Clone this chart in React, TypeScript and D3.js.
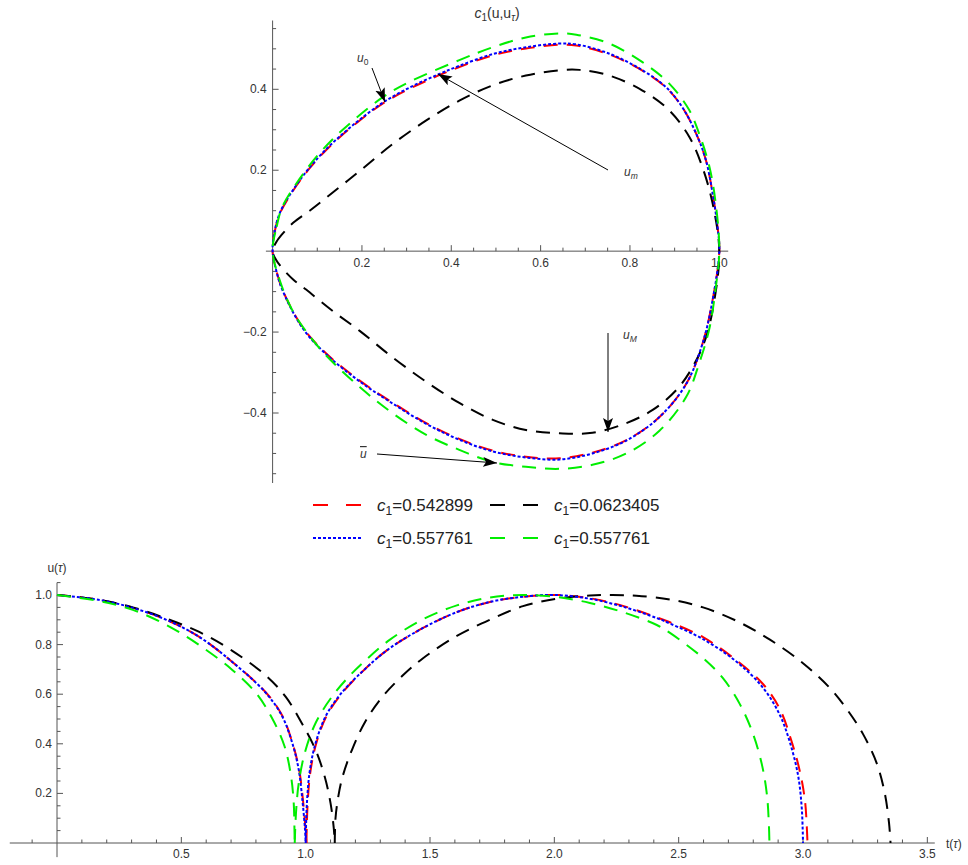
import React from 'react';
import * as d3 from 'd3';

// phase portrait c1(u, u_tau): upper and lower branches, [u, u_tau]
const redUpper = [[0,0],[0.004,0.044],[0.016,0.092],[0.045,0.148],[0.083,0.205],[0.12,0.25],[0.157,0.288],[0.195,0.323],[0.248,0.366],[0.306,0.401],[0.369,0.433],[0.418,0.455],[0.493,0.484],[0.567,0.501],[0.642,0.51],[0.68,0.508],[0.754,0.486],[0.828,0.446],[0.881,0.404],[0.917,0.356],[0.948,0.291],[0.97,0.225],[0.985,0.143],[0.996,0.06],[1,0]];
const redLower = [[0,0],[0.008,-0.046],[0.022,-0.095],[0.067,-0.188],[0.12,-0.253],[0.195,-0.32],[0.268,-0.374],[0.344,-0.425],[0.418,-0.464],[0.493,-0.493],[0.567,-0.508],[0.642,-0.512],[0.716,-0.498],[0.792,-0.467],[0.866,-0.41],[0.926,-0.328],[0.962,-0.23],[0.985,-0.121],[1,0]];
const blackUpper = [[0,0],[0.008,0.022],[0.02,0.04],[0.046,0.07],[0.083,0.1],[0.12,0.132],[0.195,0.198],[0.268,0.264],[0.344,0.323],[0.418,0.372],[0.493,0.41],[0.567,0.434],[0.642,0.447],[0.687,0.448],[0.754,0.434],[0.828,0.397],[0.888,0.348],[0.933,0.282],[0.962,0.208],[0.985,0.118],[1,0]];
const blackLower = [[0,0],[0.008,-0.022],[0.02,-0.04],[0.046,-0.07],[0.075,-0.095],[0.131,-0.145],[0.195,-0.197],[0.268,-0.262],[0.344,-0.323],[0.418,-0.375],[0.493,-0.417],[0.567,-0.442],[0.642,-0.45],[0.716,-0.449],[0.792,-0.425],[0.85,-0.393],[0.904,-0.343],[0.94,-0.287],[0.97,-0.214],[0.989,-0.121],[1,0]];
const blueUpper = [[0,0],[0.004,0.045],[0.016,0.094],[0.045,0.15],[0.083,0.207],[0.12,0.252],[0.157,0.29],[0.195,0.325],[0.248,0.368],[0.306,0.404],[0.369,0.436],[0.418,0.458],[0.493,0.487],[0.567,0.504],[0.642,0.513],[0.68,0.511],[0.754,0.488],[0.828,0.447],[0.881,0.405],[0.917,0.356],[0.948,0.291],[0.97,0.225],[0.985,0.143],[0.996,0.06],[1,0]];
const blueLower = [[0,0],[0.008,-0.047],[0.022,-0.096],[0.067,-0.19],[0.12,-0.255],[0.195,-0.322],[0.268,-0.376],[0.344,-0.427],[0.418,-0.466],[0.493,-0.495],[0.567,-0.51],[0.642,-0.515],[0.716,-0.5],[0.792,-0.468],[0.866,-0.41],[0.926,-0.328],[0.962,-0.23],[0.985,-0.121],[1,0]];
const greenUpper = [[0,0],[0.009,0.06],[0.022,0.11],[0.06,0.178],[0.105,0.242],[0.157,0.3],[0.246,0.38],[0.306,0.418],[0.418,0.472],[0.493,0.504],[0.567,0.528],[0.642,0.538],[0.68,0.535],[0.754,0.513],[0.828,0.467],[0.888,0.414],[0.933,0.348],[0.955,0.29],[0.978,0.208],[0.993,0.109],[1,0]];
const greenLower = [[0,0],[0.016,-0.072],[0.045,-0.148],[0.083,-0.21],[0.12,-0.258],[0.195,-0.336],[0.268,-0.4],[0.344,-0.454],[0.418,-0.491],[0.493,-0.521],[0.567,-0.533],[0.642,-0.538],[0.716,-0.528],[0.792,-0.5],[0.866,-0.444],[0.926,-0.36],[0.955,-0.277],[0.978,-0.19],[0.993,-0.082],[1,0]];

// u(tau) against t(tau): falling arc and rising arc, [t, u]
const redFall = [[0,1],[0.172,0.98],[0.305,0.948],[0.44,0.9],[0.572,0.831],[0.705,0.73],[0.84,0.607],[0.905,0.515],[0.945,0.41],[0.973,0.3],[0.99,0.165],[0.999,0.06],[1.003,0]];
const redRise = [[1.003,0],[1.008,0.161],[1.02,0.294],[1.043,0.403],[1.083,0.51],[1.143,0.6],[1.237,0.7],[1.339,0.786],[1.472,0.867],[1.608,0.931],[1.741,0.972],[1.874,0.993],[2.01,1.0],[2.143,0.987],[2.276,0.956],[2.412,0.91],[2.465,0.89],[2.598,0.83],[2.734,0.735],[2.84,0.64],[2.907,0.54],[2.955,0.407],[2.988,0.286],[3.008,0.17],[3.016,0.05],[3.018,0]];
const blackFall = [[0,1],[0.172,0.98],[0.305,0.95],[0.44,0.905],[0.572,0.851],[0.705,0.775],[0.84,0.675],[0.92,0.589],[0.984,0.484],[1.04,0.375],[1.077,0.266],[1.1,0.161],[1.113,0.06],[1.117,0]];
const blackRise = [[1.117,0],[1.12,0.1],[1.13,0.18],[1.148,0.266],[1.188,0.38],[1.24,0.49],[1.308,0.589],[1.39,0.675],[1.472,0.745],[1.608,0.835],[1.741,0.9],[1.874,0.955],[2.01,0.985],[2.143,0.998],[2.233,1.0],[2.33,0.997],[2.465,0.982],[2.598,0.95],[2.734,0.895],[2.867,0.82],[3.0,0.725],[3.108,0.625],[3.176,0.54],[3.241,0.44],[3.297,0.32],[3.329,0.2],[3.346,0.08],[3.352,0]];
const blueFall = [[0,1],[0.172,0.98],[0.305,0.948],[0.44,0.9],[0.572,0.831],[0.705,0.73],[0.84,0.605],[0.905,0.512],[0.945,0.407],[0.972,0.296],[0.988,0.161],[0.997,0.06],[1.0,0]];
const blueRise = [[1.0,0],[1.005,0.161],[1.017,0.294],[1.04,0.403],[1.08,0.51],[1.14,0.6],[1.237,0.7],[1.339,0.786],[1.472,0.867],[1.608,0.931],[1.741,0.972],[1.874,0.993],[2.0,1.0],[2.143,0.985],[2.276,0.953],[2.412,0.907],[2.465,0.885],[2.598,0.822],[2.734,0.73],[2.84,0.625],[2.907,0.516],[2.947,0.407],[2.98,0.274],[2.995,0.141],[3.0,0]];
const greenFall = [[0,1],[0.172,0.975],[0.305,0.94],[0.44,0.879],[0.572,0.798],[0.705,0.698],[0.8,0.605],[0.864,0.505],[0.915,0.39],[0.941,0.27],[0.952,0.161],[0.955,0.05],[0.956,0]];
const greenRise = [[0.956,0],[0.961,0.12],[0.972,0.24],[0.997,0.365],[1.04,0.484],[1.105,0.589],[1.17,0.667],[1.237,0.733],[1.339,0.82],[1.472,0.902],[1.608,0.958],[1.741,0.99],[1.874,1.0],[2.01,0.992],[2.143,0.968],[2.276,0.931],[2.412,0.879],[2.465,0.847],[2.598,0.746],[2.678,0.665],[2.746,0.56],[2.799,0.44],[2.835,0.315],[2.855,0.194],[2.863,0.07],[2.865,0]];

const series = [
  { label: '0.542899', color: '#ff0000', dash: '14,9', upper: redUpper, lower: redLower, fall: redFall, rise: redRise },
  { label: '0.0623405', color: '#000000', dash: '14,9', upper: blackUpper, lower: blackLower, fall: blackFall, rise: blackRise },
  { label: '0.557761', color: '#0000ff', dash: '3,2', upper: blueUpper, lower: blueLower, fall: blueFall, rise: blueRise },
  { label: '0.557761', color: '#00ee00', dash: '14,9', upper: greenUpper, lower: greenLower, fall: greenFall, rise: greenRise },
];

const xT = d3.scaleLinear().domain([0, 1]).range([272.6, 719.3]);
const yT = d3.scaleLinear().domain([-0.4, 0.4]).range([413, 89.3]);
const xB = d3.scaleLinear().domain([0, 3]).range([57, 803]);
const yB = d3.scaleLinear().domain([0, 1]).range([843, 595]);
const fmt = d3.format('.1f');
const FONT = 'Liberation Sans, Arial, sans-serif';
const AX = '#555';
const TXT = '#333';

export default function App() {
  const phase = d3.line<number[]>().x(d => xT(d[0])).y(d => yT(d[1])).curve(d3.curveCatmullRomClosed.alpha(0.5));
  const arc = d3.line<number[]>().x(d => xB(d[0])).y(d => yB(d[1])).curve(d3.curveCatmullRom.alpha(0.5));

  const topXTicks = d3.range(1, 21).map(k => ({ v: k * 0.05, major: k % 4 === 0 }));
  const topYTicks = d3.range(-11, 12).filter(k => k !== 0).map(k => ({ v: k * 0.05, major: k % 4 === 0 }));
  const botXTicks = d3.range(-1, 36).filter(k => k !== 0).map(k => ({ v: k * 0.1, major: k % 5 === 0 }));
  const botYTicks = d3.range(1, 22).map(k => ({ v: k * 0.05, major: k % 4 === 0 }));

  const legendRows = [[0, 1], [2, 3]];

  return (
    <svg width={968} height={865} style={{ position: 'absolute', left: 0, top: 0, background: '#fff' }} fontFamily={FONT}>
      <defs>
        <marker id="ah" markerUnits="userSpaceOnUse" markerWidth={16} markerHeight={12} refX={14} refY={5} orient="auto">
          <path d="M0,0 L14,5 L0,10 L3,5 Z" fill="#000" />
        </marker>
      </defs>

      {/* top plot axes */}
      <line x1={xT(-0.015)} x2={xT(1.02)} y1={yT(0)} y2={yT(0)} stroke={AX} />
      <line x1={xT(0)} x2={xT(0)} y1={yT(0.57)} y2={yT(-0.573)} stroke={AX} />
      {topXTicks.map(t => (
        <g key={'tx' + t.v}>
          <line x1={xT(t.v)} x2={xT(t.v)} y1={yT(0)} y2={yT(0) - (t.major ? 6 : 3.5)} stroke={AX} />
          {t.major && <text x={xT(t.v)} y={yT(0) + 16} fontSize={12} fill={TXT} textAnchor="middle">{fmt(t.v)}</text>}
        </g>
      ))}
      {topYTicks.map(t => (
        <g key={'ty' + t.v}>
          <line x1={xT(0)} x2={xT(0) + (t.major ? 6 : 3.5)} y1={yT(t.v)} y2={yT(t.v)} stroke={AX} />
          {t.major && <text x={xT(0) - 6} y={yT(t.v) + 4} fontSize={12} fill={TXT} textAnchor="end">{fmt(t.v)}</text>}
        </g>
      ))}
      <text x={497} y={18} fontSize={14} fill={TXT} textAnchor="middle">
        <tspan fontStyle="italic">c</tspan><tspan fontSize={10} dy={3}>1</tspan><tspan dy={-3}>(u,u</tspan><tspan fontSize={10} fontStyle="italic" dy={3}>τ</tspan><tspan dy={-3}>)</tspan>
      </text>

      {series.map((s, i) => (
        <path key={'p' + i} d={phase([...s.upper, ...s.lower.slice(1, -1).reverse()]) || ''} fill="none" stroke={s.color} strokeWidth={2} strokeDasharray={s.dash} />
      ))}

      {/* annotations */}
      <line x1={372} y1={68} x2={385} y2={102} stroke="#000" markerEnd="url(#ah)" />
      <text x={357} y={62} fontSize={12} fill={TXT}><tspan fontStyle="italic">u</tspan><tspan fontSize={8.5} dy={3}>0</tspan></text>
      <line x1={608} y1={170} x2={438} y2={74} stroke="#000" markerEnd="url(#ah)" />
      <text x={624} y={176} fontSize={12} fill={TXT}><tspan fontStyle="italic">u</tspan><tspan fontSize={8.5} fontStyle="italic" dy={3}>m</tspan></text>
      <line x1={608} y1={333} x2={608} y2={432} stroke="#000" markerEnd="url(#ah)" />
      <text x={623} y={339} fontSize={12} fill={TXT}><tspan fontStyle="italic">u</tspan><tspan fontSize={8.5} fontStyle="italic" dy={3}>M</tspan></text>
      <line x1={377} y1={454} x2={497} y2={463} stroke="#000" markerEnd="url(#ah)" />
      <text x={360} y={458} fontSize={12} fill={TXT} fontStyle="italic" textDecoration="overline">u</text>

      {/* legend */}
      {legendRows.map((row, r) => row.map((si, c) => {
        const s = series[si];
        const x0 = c === 0 ? 313 : 490;
        const y0 = r === 0 ? 505 : 538;
        return (
          <g key={'lg' + si}>
            <line x1={x0} x2={x0 + 48} y1={y0} y2={y0} stroke={s.color} strokeWidth={2} strokeDasharray={si === 2 ? '3,2' : '15,18'} />
            <text x={x0 + 64} y={y0 + 6} fontSize={17} fill="#222">
              <tspan fontStyle="italic">c</tspan><tspan fontSize={12} dy={4}>1</tspan><tspan dy={-4}>={s.label}</tspan>
            </text>
          </g>
        );
      }))}

      {/* bottom plot axes */}
      <line x1={xB(-0.19)} x2={xB(3.53)} y1={yB(0)} y2={yB(0)} stroke={AX} />
      <line x1={xB(0)} x2={xB(0)} y1={yB(1.05)} y2={yB(-0.057)} stroke={AX} />
      {botXTicks.map(t => (
        <g key={'bx' + t.v}>
          <line x1={xB(t.v)} x2={xB(t.v)} y1={yB(0)} y2={yB(0) - (t.major ? 6 : 3.5)} stroke={AX} />
          {t.major && <text x={xB(t.v)} y={yB(0) + 15} fontSize={12} fill={TXT} textAnchor="middle">{fmt(t.v)}</text>}
        </g>
      ))}
      {botYTicks.map(t => (
        <g key={'by' + t.v}>
          <line x1={xB(0)} x2={xB(0) + (t.major ? 6 : 3.5)} y1={yB(t.v)} y2={yB(t.v)} stroke={AX} />
          {t.major && <text x={xB(0) - 5} y={yB(t.v) + 4} fontSize={12} fill={TXT} textAnchor="end">{fmt(t.v)}</text>}
        </g>
      ))}
      <text x={xB(0)} y={572} fontSize={12} fill={TXT} textAnchor="middle">u(<tspan fontStyle="italic">τ</tspan>)</text>
      <text x={946} y={848} fontSize={12} fill={TXT}>t(<tspan fontStyle="italic">τ</tspan>)</text>

      {series.map((s, i) => (
        <g key={'b' + i}>
          <path d={arc(s.fall) || ''} fill="none" stroke={s.color} strokeWidth={2} strokeDasharray={s.dash} />
          <path d={arc(s.rise) || ''} fill="none" stroke={s.color} strokeWidth={2} strokeDasharray={s.dash} />
        </g>
      ))}
    </svg>
  );
}
